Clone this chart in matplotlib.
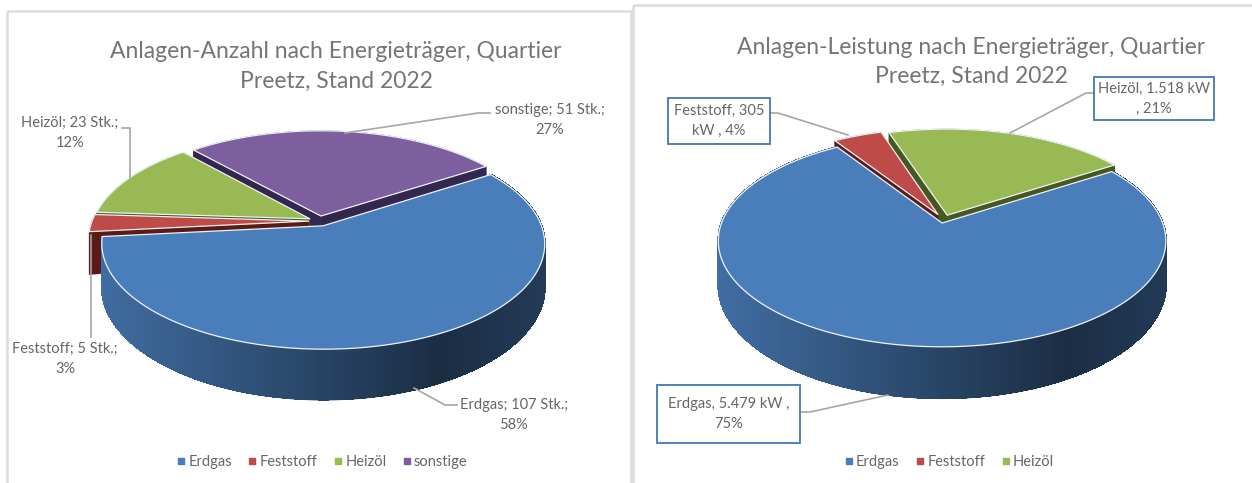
import numpy as np
import matplotlib
matplotlib.use("Agg")
import matplotlib.pyplot as plt
from matplotlib.collections import PolyCollection
from matplotlib.lines import Line2D
from matplotlib.patches import Rectangle

plt.rcParams['font.family'] = ['Lato', 'DejaVu Sans']

# ---- data ----
left_title = ["Anlagen-Anzahl nach Energieträger, Quartier", "Preetz, Stand 2022"]
left_categories = ["Erdgas", "Feststoff", "Heizöl", "sonstige"]
left_values = [107, 5, 23, 51]
left_labels = ["Erdgas; 107 Stk.;\n58%", "Feststoff; 5 Stk.;\n3%",
               "Heizöl; 23 Stk.;\n12%", "sonstige; 51 Stk.;\n27%"]

right_title = ["Anlagen-Leistung nach Energieträger, Quartier", "Preetz, Stand 2022"]
right_categories = ["Erdgas", "Feststoff", "Heizöl"]
right_values = [5479, 305, 1518]
right_labels = ["Erdgas, 5.479 kW ,\n75%", "Feststoff, 305\nkW , 4%",
                "Heizöl, 1.518 kW\n, 21%"]

top_colors = ["#4a7ebb", "#be4b48", "#98b954", "#7d5fa0"]
wall_colors = ["#1c3350", "#5a1a16", "#46571f", "#33264f"]
text_color = "#666666"
title_color = "#757575"

W, H = 1252, 483
fig = plt.figure(figsize=(W / 100, H / 100), dpi=100)
ax = fig.add_axes([0, 0, 1, 1])
ax.set_xlim(0, W)
ax.set_ylim(H, 0)
ax.axis("off")


def project(u, v, cx, cy, rx, ry, k, dz=0.0):
    w = 1 + k * v
    return cx + rx * u / w, cy - ry * v / w + dz / w


def draw_pie(values, start, cx, cy, rx, ry, k, depth, explode):
    vals = np.asarray(values, float)
    spans = vals / vals.sum() * 360
    ends = start - np.cumsum(spans)
    starts = ends + spans
    slices = []
    for i in range(len(vals)):
        mid = np.radians((starts[i] + ends[i]) / 2)
        slices.append((np.sin(mid), i, mid))
    for _, i, mid in sorted(slices, key=lambda s: -s[0]):
        e = explode[i]
        ox, oy = e * np.cos(mid), e * np.sin(mid)
        th = np.radians(np.linspace(ends[i], starts[i], max(int(spans[i] * 2), 4)))
        u = ox + np.cos(th)
        v = oy + np.sin(th)
        tx, ty = project(u, v, cx, cy, rx, ry, k)
        bx, by = project(u, v, cx, cy, rx, ry, k, depth)
        ax_, ay_ = project(ox, oy, cx, cy, rx, ry, k)
        bax, bay = project(ox, oy, cx, cy, rx, ry, k, depth)
        # radial walls
        for j in (0, -1):
            ax.fill([ax_, tx[j], bx[j], bax], [ay_, ty[j], by[j], bay],
                    color=wall_colors[i], lw=0.3)
        # rim wall: antialiased silhouette, then gradient bands without seams
        ax.fill(np.r_[tx, bx[::-1]], np.r_[ty, by[::-1]], color=wall_colors[i], lw=0.5)
        if i == 0:
            base = np.array(matplotlib.colors.to_rgb(top_colors[i]))
            quads, cols = [], []
            left, right = cx - rx, cx + rx
            for n in range(len(th) - 1):
                quads.append([(tx[n], ty[n]), (tx[n + 1], ty[n + 1]),
                              (bx[n + 1], by[n + 1] - 0.6), (bx[n], by[n] - 0.6)])
                t = (tx[n] - left) / (right - left)
                cols.append(base * np.interp(t, [0, 0.78, 1], [0.86, 0.36, 0.46]))
            ax.add_collection(PolyCollection(quads, facecolors=cols, edgecolors=cols,
                                             linewidths=0.8, antialiaseds=False))
        # top face
        ax.fill(np.r_[ax_, tx], np.r_[ay_, ty], facecolor=top_colors[i],
                edgecolor="#eef2f6", lw=0.9, joinstyle="round")


def leader(xs, ys):
    ax.plot(xs, ys, color="#a6a6a6", lw=1.2, solid_joinstyle="miter")


def legend(categories, anchor):
    handles = [Line2D([], [], ls="", marker="s", ms=4.2, color=top_colors[i], label=c)
               for i, c in enumerate(categories)]
    lg = ax.legend(handles=handles, ncol=len(handles), frameon=False, loc="center",
                   bbox_to_anchor=anchor, bbox_transform=ax.transData, fontsize=10.5,
                   labelcolor=text_color, columnspacing=0.95, handletextpad=0.05,
                   handlelength=0.9, borderpad=0)
    ax.add_artist(lg)
    ax.legend_ = None


# panels
ax.add_patch(Rectangle((7, 11), 624, 480, fill=False, ec="#dcdcdc", lw=1.8))
ax.add_patch(Rectangle((633, 5), 630, 490, fill=False, ec="#dcdcdc", lw=1.8))

# left pie
draw_pie(left_values, 33, 319.5, 221, 216.6, 101, 0.167, 42, [0.05, 0.05, 0.05, 0.05])
# right pie
draw_pie(right_values, 33, 943.5, 220, 219.5, 102, 0.167, 43, [0.03, 0.06, 0.05])

# titles
ttl = dict(ha="center", va="center", fontsize=16.5, color=title_color)
ax.text(336, 52, left_title[0], **ttl)
ax.text(336, 81, left_title[1], **ttl)
ax.text(971, 47, right_title[0], **ttl)
ax.text(971, 76, right_title[1], **ttl)

# left labels and leaders
leader([457, 445, 414], [405, 405, 388])
leader([91, 91], [337, 235])
leader([122, 130, 130], [128, 128, 178])
leader([490, 478, 345], [113, 113, 133])
lab = dict(ha="center", va="center", fontsize=10.5, color=text_color, linespacing=1.55)
ax.text(514, 415, left_labels[0], **lab)
ax.text(65, 359, left_labels[1], **lab)
ax.text(70, 133, left_labels[2], **lab)
ax.text(550, 120, left_labels[3], **lab)

# right labels, boxes and leaders
leader([800, 810, 888], [412, 412, 395])
leader([770, 778, 848], [113, 113, 135])
leader([1094, 1086, 1010], [93, 93, 133])
boxes = [(657, 385, 143, 58), (668, 98, 102, 46), (1094, 77, 120, 43)]
for (x, y, w, h), text in zip(boxes, right_labels):
    ax.add_patch(Rectangle((x, y), w, h, fc="white", ec="#4f81bd", lw=1.4, zorder=3))
    ax.text(x + w / 2, y + h / 2, text, zorder=4, **lab)

legend(left_categories, (321, 462))
legend(right_categories, (948, 462))

fig.savefig("out.png", dpi=100, facecolor="white")
